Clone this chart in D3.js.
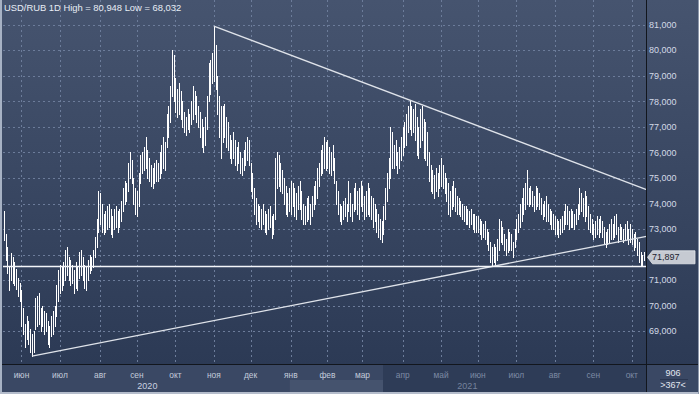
<!DOCTYPE html>
<html>
<head>
<meta charset="utf-8">
<script src="https://cdn.jsdelivr.net/npm/d3@7"></script>
<style>
  body { margin: 0; background: #2f3d58; }
  svg { display: block; font-family: "Liberation Sans", Arial, sans-serif; }
</style>
</head>
<body>
<div class="chart"></div>
<script>
// daily bars, 18 May 2020 .. 12 Oct 2021 (high / low per bar)
const highs = [
  // may 2020
  73.72,72.80,72.30,71.50,72.05,71.90,71.70,71.45,71.10,70.90,
  // jun
  70.60,69.90,69.30,69.60,69.40,69.10,68.90,69.00,70.30,70.40,70.50,69.90,70.00,69.80,69.70,69.40,69.20,69.60,69.80,70.00,70.80,71.40,
  // jul
  71.60,71.50,71.70,72.20,72.30,71.90,71.80,71.60,71.40,71.70,71.50,72.10,72.20,71.90,71.60,71.50,71.80,72.00,71.90,72.20,72.70,73.40,74.50,
  // aug
  74.40,74.00,73.60,73.70,73.90,74.00,73.80,73.50,73.80,73.90,73.70,73.80,74.10,74.60,74.90,74.80,75.60,76.00,75.70,75.00,74.60,
  // sep
  74.50,75.20,75.90,76.00,76.20,76.60,76.10,75.80,75.50,75.40,75.60,75.70,75.60,76.00,76.30,76.60,76.40,77.50,77.80,78.60,80.00,79.80,
  // oct
  78.90,78.50,78.70,78.40,78.00,77.60,77.40,77.70,77.50,78.00,78.60,78.40,78.20,77.80,77.60,77.30,77.00,77.40,78.20,79.50,79.60,79.90,
  // nov
  80.948,80.20,79.00,78.20,77.80,77.80,77.90,77.40,77.20,76.70,76.50,76.80,76.50,76.20,76.40,76.00,75.80,76.10,76.40,76.60,76.50,
  // dec
  75.60,75.20,74.60,74.20,74.00,73.90,73.80,74.00,73.70,73.60,73.80,73.90,73.50,73.60,75.80,76.00,75.90,75.60,75.30,75.00,74.70,74.40,74.60,
  // jan 2021
  74.90,74.80,74.60,74.40,74.70,74.90,74.50,74.00,73.90,74.20,74.30,74.00,74.30,74.70,74.90,75.40,75.60,76.10,76.30,76.60,76.40,
  // feb
  76.50,76.20,76.00,76.30,75.80,74.90,74.50,74.00,73.90,74.10,74.20,74.00,74.90,74.40,74.00,74.60,74.80,74.50,74.60,74.90,
  // mar
  74.70,74.30,74.50,74.80,74.60,74.30,74.20,74.00,73.80,73.60,73.40,73.30,73.90,74.60,75.20,75.80,77.00,76.80,76.30,76.50,76.00,76.20,76.60,
  // apr
  77.00,77.20,77.50,77.80,78.05,77.80,77.70,77.90,77.40,77.00,77.70,77.80,77.30,77.20,76.80,76.00,75.50,75.30,75.10,75.40,75.20,75.50,
  // may
  75.80,75.50,75.20,75.00,74.80,74.50,74.70,74.90,74.60,74.30,74.20,74.10,74.00,73.90,73.90,73.80,73.70,73.80,73.60,73.60,73.50,
  // jun
  73.50,73.40,73.30,73.20,73.30,73.00,72.90,72.50,72.30,72.40,72.30,72.60,73.40,73.30,73.10,72.80,72.60,73.00,72.90,72.80,72.50,73.00,
  // jul
  73.40,73.60,74.00,74.20,74.60,74.80,75.30,74.60,74.70,74.50,74.30,74.70,74.60,74.40,74.20,74.00,74.10,74.30,74.00,73.80,73.70,73.60,
  // aug
  73.50,73.40,73.30,73.40,73.50,73.70,74.00,73.90,73.70,73.80,73.70,73.60,73.80,74.00,74.60,74.40,74.20,74.50,74.30,73.90,73.60,73.40,
  // sep
  73.20,73.30,73.50,73.40,73.50,73.30,73.10,72.90,73.00,73.20,73.40,73.20,73.50,73.60,73.10,73.20,73.10,73.00,73.20,73.30,73.00,73.20,
  // oct
  73.00,72.80,72.90,72.60,72.50,72.10,72.00,72.10
];
const lows = [
  72.57,71.80,71.30,70.60,71.00,70.90,70.80,70.65,70.40,70.20,
  69.20,68.90,68.40,68.70,68.50,68.20,68.032,68.20,69.10,69.20,69.30,69.00,69.20,68.90,69.00,68.50,68.40,68.80,68.90,69.20,69.60,70.20,
  70.50,70.60,70.80,71.00,71.20,71.00,70.80,70.90,70.50,70.70,70.60,71.10,71.20,71.00,70.70,70.60,71.00,71.30,71.40,71.50,71.90,72.30,72.90,
  73.20,72.90,72.80,72.90,73.00,73.10,72.80,72.70,73.00,73.10,72.90,73.10,73.30,73.70,74.00,74.10,74.50,75.00,74.80,74.00,73.60,
  73.50,73.90,74.80,75.20,75.30,75.40,75.00,74.90,74.70,74.60,74.80,74.90,74.90,75.00,75.20,75.40,75.30,76.20,76.60,77.20,78.20,78.00,
  77.60,77.40,77.50,77.30,77.00,76.80,76.70,76.90,76.80,77.10,77.30,77.50,77.20,77.00,76.60,76.20,76.00,76.30,76.90,78.00,78.30,78.70,
  78.80,78.50,77.50,76.60,75.80,76.40,76.60,76.20,76.10,75.80,75.60,75.80,75.50,75.30,75.60,75.20,75.10,75.30,75.50,75.70,75.50,
  74.50,74.20,73.60,73.20,73.30,73.10,73.00,73.20,72.90,72.80,73.00,73.10,72.65,72.80,73.40,74.60,74.70,74.50,74.40,74.00,73.60,73.50,73.70,
  73.60,73.90,73.50,73.40,73.80,73.80,73.40,73.20,73.20,73.30,73.40,73.20,73.50,73.80,74.00,74.20,74.70,75.10,75.20,75.40,75.30,
  75.40,75.20,75.10,75.30,74.80,74.00,73.60,73.30,73.20,73.40,73.50,73.30,73.70,73.50,73.30,73.70,73.80,73.60,73.40,73.90,
  73.70,73.40,73.50,73.60,73.50,73.40,73.10,73.30,72.90,72.70,72.60,72.50,72.80,73.40,74.10,74.60,75.00,75.40,75.40,75.50,75.20,75.40,75.70,
  75.90,76.20,76.30,76.80,76.90,76.70,76.80,76.50,75.90,75.80,76.20,76.50,75.80,75.70,75.50,74.90,74.50,74.40,74.20,74.50,74.30,74.60,
  74.70,74.60,74.40,74.10,73.60,73.50,73.80,73.90,73.70,73.60,73.60,73.50,73.40,73.30,73.20,73.20,73.10,73.20,73.00,72.90,72.90,
  72.90,72.80,72.60,72.70,72.60,72.40,72.20,71.70,71.54,71.70,71.60,71.80,72.20,72.50,72.40,72.20,72.00,72.10,72.20,72.20,71.90,72.30,
  72.60,72.90,73.10,73.30,73.60,73.80,74.00,73.90,74.00,73.90,73.70,73.80,73.90,73.80,73.60,73.40,73.50,73.30,73.30,73.20,73.00,73.00,
  72.80,72.80,72.70,72.80,72.90,73.00,73.20,73.20,73.00,73.10,73.10,73.00,73.20,73.40,73.60,73.70,73.50,73.30,73.50,73.00,72.90,72.80,
  72.60,72.70,72.80,72.70,72.90,72.70,72.40,72.30,72.40,72.50,72.60,72.60,72.70,72.80,72.50,72.60,72.60,72.50,72.60,72.60,72.40,72.50,
  72.40,72.20,72.30,72.00,71.70,71.60,71.55,71.80
];

// first bar of each month, with its label
const monthStarts = [10, 32, 55, 76, 98, 120, 141, 164, 185, 205, 228, 250, 271, 293, 315, 337, 359];
const monthLabels = ["июн","июл","авг","сен","окт","ноя","дек","янв","фев","мар","апр","май","июн","июл","авг","сен","окт"];
const yearLabels = ["2020", "2021"];
const yearStarts = [0, 164];

const yTicks = [69, 70, 71, 72, 73, 74, 75, 76, 77, 78, 79, 80, 81];
const lastPrice = 71.897;
const titleText = "USD/RUB 1D High = 80,948 Low = 68,032";
const barInfo = ["906", ">367<"];

// drawn lines: [bar index, price]
const upperTrend = [[120, 80.948], [232, 78.05]];
const lowerTrend = [[16, 68.032], [279, 71.535]];
const supportLevel = 71.55;

const width = 699, height = 394;
const plotLeft = 3, plotRight = 646.5, plotBottom = 364.5;
const navSplitX = 383;   // bottom axis is dimmed right of this

const ru = d3.formatLocale({ decimal: ",", thousands: " ", grouping: [3], currency: ["", ""] });
const fmt = ru.format(".3f");

const svg = d3.select(".chart").append("svg")
    .attr("width", width)
    .attr("height", height);

const defs = svg.append("defs");
const grad = defs.append("linearGradient")
    .attr("id", "bg").attr("x1", 0).attr("y1", 0).attr("x2", 0).attr("y2", 1);
grad.append("stop").attr("offset", "0%").attr("stop-color", "#46546f");
grad.append("stop").attr("offset", "100%").attr("stop-color", "#2c3a55");

// background
svg.append("rect").attr("width", width).attr("height", plotBottom)
    .attr("fill", "url(#bg)");

const x = d3.scaleLinear().domain([0, highs.length - 1]).range([4, 644]);
const y = d3.scaleLinear().domain([69, 81]).range([331.3, 24.7]);

// grid
const grid = svg.append("g")
    .attr("stroke", "#6c7c9a")
    .attr("stroke-dasharray", "2,3")
    .attr("stroke-width", 1)
    .attr("shape-rendering", "crispEdges");
grid.selectAll("line.h").data(yTicks).enter().append("line")
    .attr("class", "h")
    .attr("x1", plotLeft).attr("x2", plotRight)
    .attr("y1", d => Math.round(y(d)) + 0.5).attr("y2", d => Math.round(y(d)) + 0.5);
grid.selectAll("line.v").data(monthStarts).enter().append("line")
    .attr("class", "v")
    .attr("x1", d => Math.round(x(d)) + 0.5).attr("x2", d => Math.round(x(d)) + 0.5)
    .attr("y1", 0).attr("y2", plotBottom);

// bars
svg.append("g")
    .attr("stroke", "#ffffff")
    .attr("stroke-width", 1)
    .attr("shape-rendering", "crispEdges")
    .selectAll("line").data(highs).enter().append("line")
    .attr("x1", (d, i) => Math.round(x(i)) + 0.5)
    .attr("x2", (d, i) => Math.round(x(i)) + 0.5)
    .attr("y1", d => y(d))
    .attr("y2", (d, i) => y(lows[i]) + 1);

// trend lines, extended to the right edge
const iEnd = x.invert(plotRight);
function extend(a) {
    const slope = (a[1][1] - a[0][1]) / (a[1][0] - a[0][0]);
    return [a[0], [iEnd, a[0][1] + slope * (iEnd - a[0][0])]];
}
const lineGen = d3.line().x(d => x(d[0])).y(d => y(d[1]));
svg.append("g")
    .attr("fill", "none")
    .attr("stroke", "#dfe3ea")
    .attr("stroke-width", 1.3)
    .selectAll("path").data([extend(upperTrend), extend(lowerTrend)]).enter().append("path")
    .attr("d", lineGen);

svg.append("line")
    .attr("x1", plotLeft).attr("x2", plotRight)
    .attr("y1", Math.round(y(supportLevel)) + 0.5).attr("y2", Math.round(y(supportLevel)) + 0.5)
    .attr("stroke", "#f4f6fa").attr("stroke-width", 1.5);

// title
svg.append("text")
    .attr("x", 4).attr("y", 10.5)
    .attr("fill", "#e8edf5")
    .attr("font-size", "9.4px")
    .text(titleText);

// right price axis
svg.append("rect").attr("x", plotRight).attr("width", width - plotRight).attr("height", plotBottom)
    .attr("fill", "url(#bg)");
svg.selectAll("text.ytick").data(yTicks.filter(d => Math.abs(y(d) - y(lastPrice)) > 9)).enter()
    .append("text")
    .attr("class", "ytick")
    .attr("x", 649).attr("y", d => y(d))
    .attr("dy", "0.35em")
    .attr("fill", "#d3dae7")
    .attr("font-size", "9px")
    .text(d => fmt(d));

// last price tag
const yp = y(lastPrice);
svg.append("path")
    .attr("d", `M${plotRight + 1},${yp} L${plotRight + 6},${yp - 6.5} L695,${yp - 6.5} L695,${yp + 6.5} L${plotRight + 6},${yp + 6.5} Z`)
    .attr("fill", "#c6cad2")
    .attr("stroke", "#e4e6ea")
    .attr("stroke-width", 0.8);
svg.append("text")
    .attr("x", 652).attr("y", yp).attr("dy", "0.35em")
    .attr("fill", "#1c2230")
    .attr("font-size", "9px")
    .text(fmt(lastPrice));

// bottom time axis
const axisTop = plotBottom, axisBottom = 392;
svg.append("rect").attr("x", 0).attr("y", axisTop).attr("width", width).attr("height", axisBottom - axisTop)
    .attr("fill", "#3a4864");
// year band row for 2021
svg.append("rect")
    .attr("x", x(yearStarts[1]) - 1).attr("y", 380)
    .attr("width", plotRight - x(yearStarts[1]) + 1).attr("height", axisBottom - 380)
    .attr("fill", "#45536e");
svg.append("rect")
    .attr("x", navSplitX).attr("y", axisTop)
    .attr("width", plotRight - navSplitX).attr("height", axisBottom - axisTop)
    .attr("fill", "#2e3c57");

svg.selectAll("text.month").data(monthStarts).enter().append("text")
    .attr("class", "month")
    .attr("x", d => x(d)).attr("y", 377.5)
    .attr("text-anchor", "middle")
    .attr("font-size", "8.4px")
    .attr("fill", d => x(d) < navSplitX ? "#c3cbdb" : "#7d8aa4")
    .text((d, i) => monthLabels[i]);

svg.selectAll("text.year").data(yearStarts).enter().append("text")
    .attr("class", "year")
    .attr("x", (d, i) => {
        const a = x(d), b = i + 1 < yearStarts.length ? x(yearStarts[i + 1]) : x(highs.length - 1);
        return (a + b) / 2;
    })
    .attr("y", 388.5)
    .attr("text-anchor", "middle")
    .attr("font-size", "9px")
    .attr("fill", (d, i) => i === 0 ? "#cad2e0" : "#75829c")
    .text((d, i) => yearLabels[i]);

// bar count box
svg.append("rect").attr("x", plotRight).attr("y", axisTop).attr("width", width - plotRight).attr("height", axisBottom - axisTop)
    .attr("fill", "#3a4864");
svg.append("line").attr("x1", 660).attr("x2", 688).attr("y1", 379.5).attr("y2", 379.5)
    .attr("stroke", "#2a3650").attr("stroke-width", 1);
svg.selectAll("text.info").data(barInfo).enter().append("text")
    .attr("class", "info")
    .attr("x", 673).attr("y", (d, i) => i === 0 ? 376 : 388)
    .attr("text-anchor", "middle")
    .attr("font-size", "9px")
    .attr("fill", "#e2e7f0")
    .text(d => d);

// separators and frame
svg.append("line").attr("x1", plotRight).attr("x2", plotRight).attr("y1", 0).attr("y2", axisBottom)
    .attr("stroke", "#12161d").attr("stroke-width", 1);
svg.append("line").attr("x1", 0).attr("x2", width).attr("y1", plotBottom).attr("y2", plotBottom)
    .attr("stroke", "#12161d").attr("stroke-width", 1);
svg.append("rect").attr("x", 0).attr("y", 0).attr("width", 2).attr("height", height)
    .attr("fill", "#a7b2c4");
svg.append("rect").attr("x", 0).attr("y", axisBottom).attr("width", width).attr("height", height - axisBottom)
    .attr("fill", "#b4bccb");
svg.append("rect").attr("x", width - 1).attr("y", 0).attr("width", 1).attr("height", height)
    .attr("fill", "#8d98ab");
</script>
</body>
</html>
